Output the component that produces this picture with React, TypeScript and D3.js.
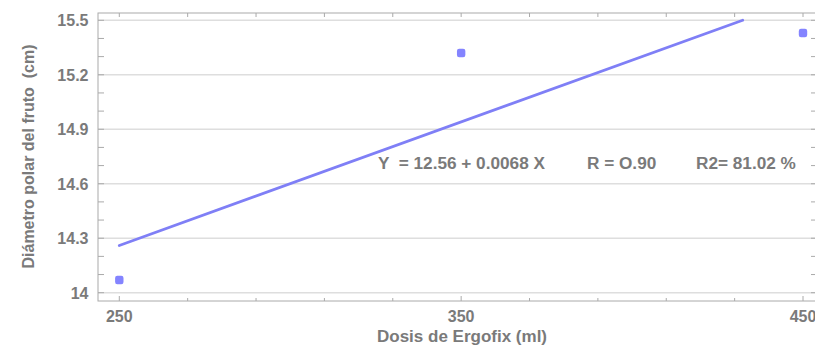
import React from 'react';
import * as d3 from 'd3';

// Dosis de Ergofix vs diametro polar
const doses = [250, 350, 450];
const diametro = [14.07, 15.32, 15.43];

// regression Y = a + bX
const intercept = 12.56;
const slope = 0.0068;
const eqLabels = ['Y  = 12.56 + 0.0068 X', 'R = O.90', 'R2= 81.02 %'];

const xLabelTicks = [250, 350, 450];
const xMinorTicks = [250, 270, 290, 310, 330, 350, 370, 390, 410, 430, 450];
const yLabelTicks = [14, 14.3, 14.6, 14.9, 15.2, 15.5];
const yMinorTicks = [14, 14.1, 14.2, 14.3, 14.4, 14.5, 14.6, 14.7, 14.8, 14.9, 15, 15.1, 15.2, 15.3, 15.4, 15.5];

const W = 815;
const H = 347;
const FRAME = { left: 98, top: 13, right: 816, bottom: 301 };

const TEXT = '#7a7a7a';
const AXIS = '#aaa';
const GRID = '#dedede';
const BLUE = '#8484ff';
const FONT = 'Liberation Sans, Arial, sans-serif';

export default function App() {
    const x = d3.scaleLinear().domain([250, 450]).range([119.3, 803]);
    const y = d3.scaleLinear().domain([14, 15.5]).range([292.7, 20.3]);

    // line ends where it reaches the top of the y range
    const xEnd = (15.5 - intercept) / slope;
    const fit = d3.line<number>()
        .x((d) => x(d))
        .y((d) => y(intercept + slope * d));

    return (
        <svg width={W} height={H} style={{ position: 'fixed', left: 0, top: 0, background: '#fff' }}
            fontFamily={FONT} fontWeight="bold">
            {/* gridlines */}
            {yLabelTicks.map((t) => (
                <line key={'g' + t} x1={FRAME.left} x2={FRAME.right} y1={y(t)} y2={y(t)}
                    stroke={GRID} strokeWidth={1.5} />
            ))}

            {/* frame */}
            <rect x={FRAME.left} y={FRAME.top} width={FRAME.right - FRAME.left} height={FRAME.bottom - FRAME.top}
                fill="none" stroke={AXIS} strokeWidth={1} />

            {/* ticks, all pointing inward */}
            {xMinorTicks.map((t) => {
                const major = xLabelTicks.includes(t);
                return (
                    <g key={'xt' + t}>
                        <line x1={x(t)} x2={x(t)} y1={FRAME.bottom} y2={FRAME.bottom - (major ? 5 : 3)} stroke={AXIS} />
                        <line x1={x(t)} x2={x(t)} y1={FRAME.top} y2={FRAME.top + 4} stroke={AXIS} />
                    </g>
                );
            })}
            {yMinorTicks.map((t) => (
                <g key={'yt' + t}>
                    <line x1={FRAME.left} x2={FRAME.left + 6} y1={y(t)} y2={y(t)} stroke={AXIS} />
                    <line x1={FRAME.right} x2={FRAME.right - 5} y1={y(t)} y2={y(t)} stroke={AXIS} />
                </g>
            ))}

            {/* tick labels */}
            {xLabelTicks.map((t) => (
                <text key={'xl' + t} x={x(t)} y={321.5} textAnchor="middle" fontSize={16} fill={TEXT}>{t}</text>
            ))}
            {yLabelTicks.map((t) => (
                <text key={'yl' + t} x={88.5} y={y(t) + 5.8} textAnchor="end" fontSize={16} fill={TEXT}>{String(t)}</text>
            ))}

            {/* axis titles */}
            <text x={462} y={341.5} textAnchor="middle" fontSize={17} fill={TEXT}>Dosis de Ergofix (ml)</text>
            <text transform="translate(34,156.5) rotate(-90)" textAnchor="middle" fontSize={16} fill={TEXT}
                style={{ whiteSpace: 'pre' }}>Diámetro polar del fruto  (cm)</text>

            {/* regression line */}
            <path d={fit([250, xEnd]) || ''} fill="none" stroke="#7f7ff6" strokeWidth={2.8} strokeLinecap="round" />

            {/* observed points */}
            {doses.map((d, i) => (
                <rect key={'p' + d} x={x(d) - 4.2} y={y(diametro[i]) - 4.2} width={8.4} height={8.4} rx={2.2}
                    fill={BLUE} />
            ))}

            {/* equation */}
            <text x={378} y={169} fontSize={17.2} fill={TEXT} style={{ whiteSpace: 'pre' }}>{eqLabels[0]}</text>
            <text x={587} y={169} fontSize={17.2} fill={TEXT} style={{ whiteSpace: 'pre' }}>{eqLabels[1]}</text>
            <text x={696} y={169} fontSize={17.2} fill={TEXT} style={{ whiteSpace: 'pre' }}>{eqLabels[2]}</text>
        </svg>
    );
}
